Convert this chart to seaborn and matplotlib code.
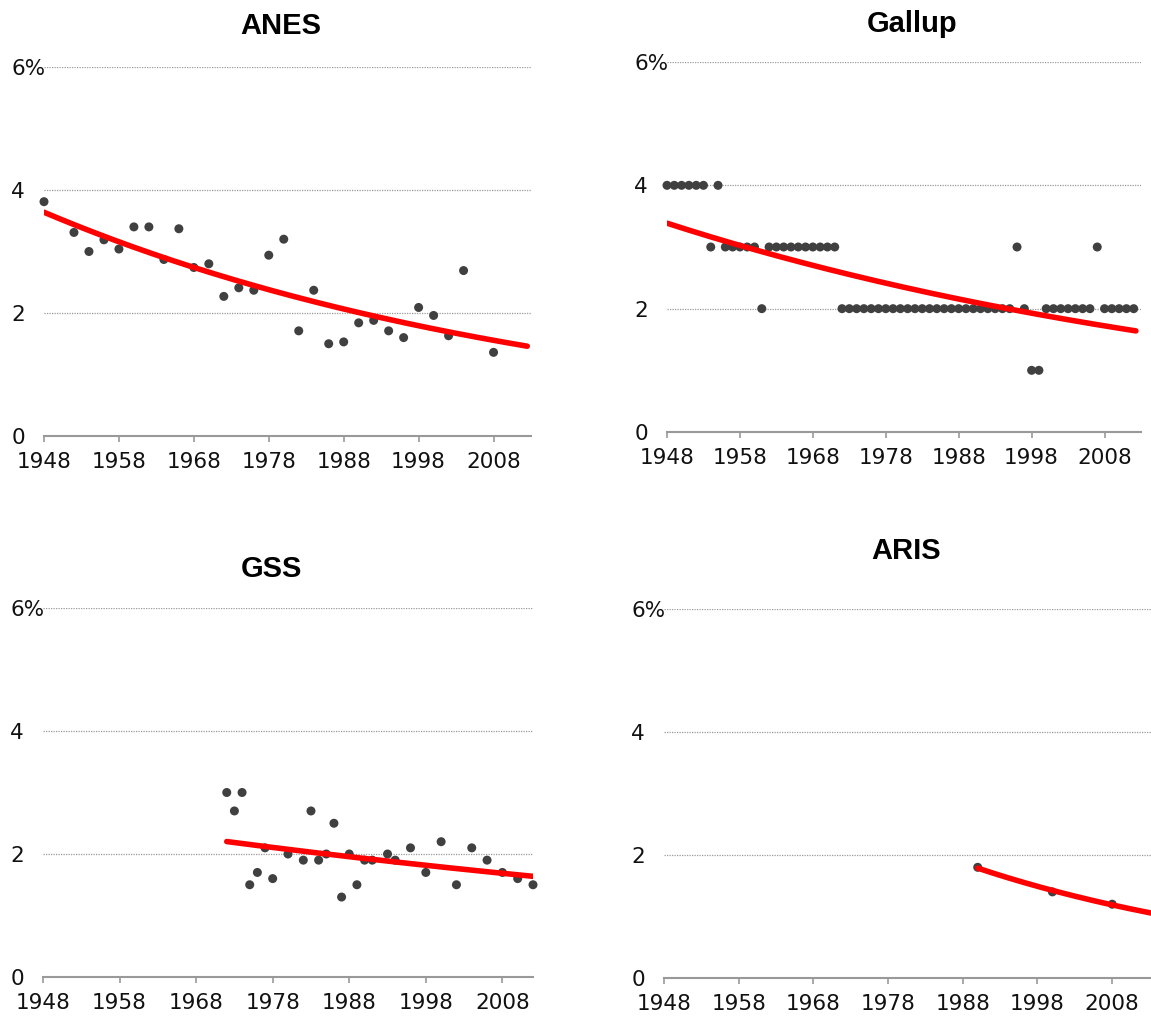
import numpy as np
import pandas as pd
import matplotlib
matplotlib.use("Agg")
import matplotlib.pyplot as plt
import seaborn as sns

# Survey data (share of population, %)
anes_years = [1948, 1952, 1954, 1956, 1958, 1960, 1962, 1964, 1966, 1968, 1970,
              1972, 1974, 1976, 1978, 1980, 1982, 1984, 1986, 1988, 1990, 1992,
              1994, 1996, 1998, 2000, 2002, 2004, 2008]
anes_pct = [3.81, 3.31, 3.0, 3.19, 3.04, 3.40, 3.40, 2.87, 3.37, 2.74, 2.80,
            2.27, 2.41, 2.37, 2.94, 3.20, 1.71, 2.37, 1.50, 1.53, 1.84, 1.88,
            1.71, 1.60, 2.09, 1.96, 1.63, 2.69, 1.36]

gallup_years = list(range(1948, 2013))
gallup_pct = [4, 4, 4, 4, 4, 4, 3, 4, 3, 3, 3, 3, 3, 2,
              3, 3, 3, 3, 3, 3, 3, 3, 3, 3,
              2, 2, 2, 2, 2, 2, 2, 2, 2, 2, 2, 2, 2, 2, 2, 2, 2, 2, 2, 2, 2, 2, 2, 2,
              3, 2, 1, 1, 2, 2, 2, 2, 2, 2, 2, 3, 2, 2, 2, 2, 2]

gss_years = [1972, 1973, 1974, 1975, 1976, 1977, 1978, 1980, 1982, 1983, 1984,
             1985, 1986, 1987, 1988, 1989, 1990, 1991, 1993, 1994, 1996, 1998,
             2000, 2002, 2004, 2006, 2008, 2010, 2012]
gss_pct = [3.0, 2.7, 3.0, 1.5, 1.7, 2.1, 1.6, 2.0, 1.9, 2.7, 1.9,
           2.0, 2.5, 1.3, 2.0, 1.5, 1.9, 1.9, 2.0, 1.9, 2.1, 1.7,
           2.2, 1.5, 2.1, 1.9, 1.7, 1.6, 1.5]

aris_years = [1990, 2000, 2008]
aris_pct = [1.8, 1.4, 1.2]

titles = ["ANES", "Gallup", "GSS", "ARIS"]
x_ticks = [1948, 1958, 1968, 1978, 1988, 1998, 2008]
y_ticks = [0, 2, 4, 6]
y_labels = ["0", "2", "4", "6%"]

sns.set_style("white")
plt.rcParams["font.family"] = ["DejaVu Sans"]

W, H = 1151, 1017
fig = plt.figure(figsize=(W / 100, H / 100), dpi=100)

# axes boxes in pixels: left, bottom(y of 0), right, top(y of 6)
boxes = [(44, 436, 531, 67), (667, 432, 1141, 62),
         (43, 977, 533, 608), (664, 978, 1157, 609)]
x_max = [2013, 2013, 2012, 2014]
trend_end = [2012.5, 2012.3, 2012, 2014]
title_pos = [(281, 26), (912, 24), (271, 569), (906, 551)]

series = [(anes_years, anes_pct), (gallup_years, gallup_pct),
          (gss_years, gss_pct), (aris_years, aris_pct)]

for i, (yrs, vals) in enumerate(series):
    l, b, r, t = boxes[i]
    ax = fig.add_axes([l / W, (H - b) / H, (r - l) / W, (b - t) / H])
    df = pd.DataFrame({"year": yrs, "pct": vals})

    # exponential trend (least squares on log values)
    k, c = np.polyfit(df["year"], np.log(df["pct"]), 1)
    tx = np.linspace(min(yrs), trend_end[i], 200)
    trend = pd.DataFrame({"year": tx, "pct": np.exp(c + k * tx)})

    sns.scatterplot(data=df, x="year", y="pct", ax=ax, color="#404040",
                    s=42, edgecolor="none", zorder=3, clip_on=False)
    sns.lineplot(data=trend, x="year", y="pct", ax=ax, color="#ff0000",
                 lw=4, zorder=4, solid_capstyle="round")

    ax.set_xlim(1948, x_max[i])
    ax.set_ylim(0, 6)
    ax.set_xticks(x_ticks)
    ax.set_xticklabels([str(v) for v in x_ticks], fontsize=15.5, color="#111111")
    ax.set_yticks(y_ticks)
    ax.set_yticklabels(y_labels, fontsize=15.5, color="#111111")
    for lab in ax.get_yticklabels():
        lab.set_ha("left")
    ax.tick_params(axis="y", length=0, pad=23.5)
    ax.tick_params(axis="x", length=4.5, width=1.2, color="#999999", pad=7,
                   direction="out", bottom=True)
    for y in [2, 4, 6]:
        ax.axhline(y, color="#9a9a9a", lw=0.9, ls=(0, (1, 1)), zorder=1)
    for s in ["top", "right", "left"]:
        ax.spines[s].set_visible(False)
    ax.spines["bottom"].set_color("#999999")
    ax.spines["bottom"].set_linewidth(1.5)
    ax.set_xlabel("")
    ax.set_ylabel("")

    tx_, ty_ = title_pos[i]
    fig.text(tx_ / W, 1 - ty_ / H, titles[i], ha="center", va="center",
             fontsize=21, fontweight="bold", color="black",
             family=["Liberation Sans"])

fig.savefig("out.png", dpi=100)
